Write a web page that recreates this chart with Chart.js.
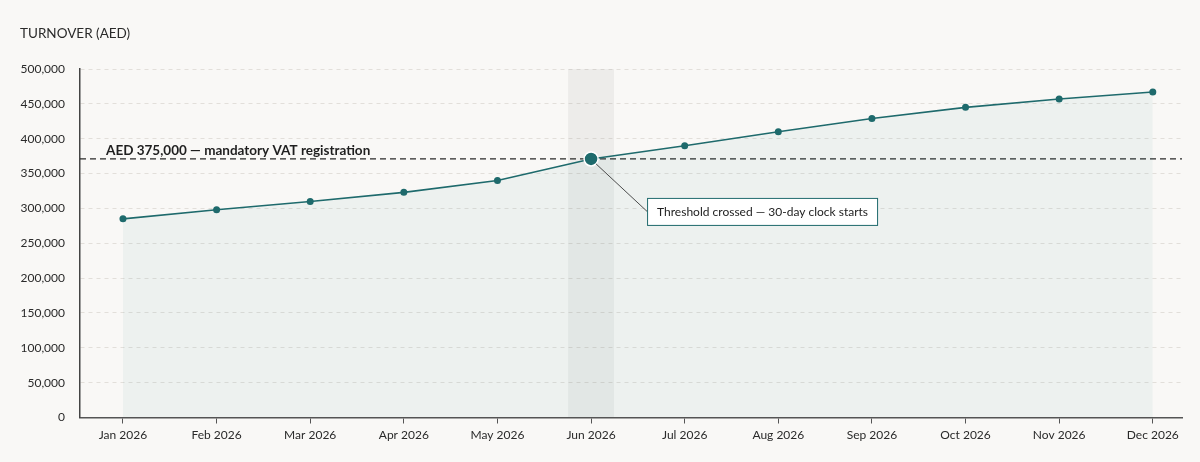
<!DOCTYPE html>
<html>
<head>
<meta charset="utf-8">
<script src="https://cdn.jsdelivr.net/npm/chart.js@4.4.1/dist/chart.umd.min.js"></script>
<style>
  html, body { margin: 0; padding: 0; background: #f9f8f6; }
  #wrap { width: 1200px; height: 462px; }
</style>
</head>
<body>
<div id="wrap"><canvas id="turnoverChart"></canvas></div>
<script>
const months = ["Jan 2026", "Feb 2026", "Mar 2026", "Apr 2026", "May 2026", "Jun 2026",
  "Jul 2026", "Aug 2026", "Sep 2026", "Oct 2026", "Nov 2026", "Dec 2026"];
const turnover = [285000, 298000, 310000, 323000, 340000, 371000,
  390000, 410000, 429000, 445000, 457000, 467000];
const thresholdValue = 371000;
const thresholdLabel = "AED 375,000 — mandatory VAT registration";
const crossIndex = 5;
const calloutText = "Threshold crossed — 30-day clock starts";
const yTitle = "TURNOVER (AED)";

const teal = "#1e6a6c";
const font = "Lato, 'Open Sans', sans-serif";

const overlays = {
  id: "overlays",
  beforeDatasetsDraw(chart) {
    const { ctx, chartArea, scales } = chart;
    const x = scales.x, y = scales.y;
    ctx.save();
    // month band behind the crossing point
    const bx1 = x.getPixelForValue(crossIndex - 0.245);
    const bx2 = x.getPixelForValue(crossIndex + 0.245);
    ctx.fillStyle = "rgba(120,120,120,0.09)";
    ctx.fillRect(bx1, chartArea.top, bx2 - bx1, chartArea.bottom - chartArea.top);
    // threshold line
    const ty = y.getPixelForValue(thresholdValue);
    ctx.strokeStyle = "#2a2a2a";
    ctx.lineWidth = 1.2;
    ctx.setLineDash([6, 4]);
    ctx.beginPath();
    ctx.moveTo(chartArea.left, ty);
    ctx.lineTo(chartArea.right, ty);
    ctx.stroke();
    ctx.setLineDash([]);
    ctx.fillStyle = "#1f1f1f";
    ctx.font = "bold 13.5px " + font;
    ctx.textBaseline = "alphabetic";
    ctx.fillText(thresholdLabel, chartArea.left + 26, ty - 3.5);
    ctx.restore();
  },
  afterDraw(chart) {
    const { ctx, scales } = chart;
    const px = scales.x.getPixelForValue(crossIndex);
    const py = scales.y.getPixelForValue(turnover[crossIndex]);
    ctx.save();
    // axis title
    ctx.fillStyle = "#2a2a2a";
    ctx.font = "13.5px " + font;
    ctx.textBaseline = "middle";
    ctx.fillText(yTitle, 20, 34);
    // callout
    const bx = px + 56, by = py + 39, bw = 230, bh = 27;
    ctx.strokeStyle = "#222";
    ctx.lineWidth = 0.8;
    ctx.beginPath();
    ctx.moveTo(px + 5, py + 5);
    ctx.lineTo(bx, by + bh / 2);
    ctx.stroke();
    ctx.fillStyle = "#ffffff";
    ctx.fillRect(bx, by, bw, bh);
    ctx.strokeStyle = teal;
    ctx.lineWidth = 1;
    ctx.strokeRect(bx + 0.5, by + 0.5, bw, bh);
    ctx.fillStyle = "#222";
    ctx.font = "12px " + font;
    ctx.fillText(calloutText, bx + 10, by + bh / 2 + 1);
    ctx.restore();
  }
};

const ctx = document.getElementById("turnoverChart");

new Chart(ctx, {
  type: "line",
  data: {
    datasets: [{
      data: turnover.map((v, i) => ({ x: i, y: v })),
      borderColor: teal,
      borderWidth: 1.6,
      backgroundColor: "rgba(30,120,120,0.055)",
      fill: "origin",
      tension: 0,
      pointRadius: c => c.dataIndex === crossIndex ? 7 : 3.5,
      pointBackgroundColor: teal,
      pointBorderColor: c => c.dataIndex === crossIndex ? "#ffffff" : teal,
      pointBorderWidth: c => c.dataIndex === crossIndex ? 1.5 : 0,
    }],
  },
  options: {
    responsive: true,
    maintainAspectRatio: false,
    animation: false,
    layout: { padding: { left: 20, top: 69, right: 18, bottom: 0 } },
    plugins: {
      legend: { display: false },
      tooltip: { enabled: false },
    },
    scales: {
      x: {
        type: "linear",
        min: -0.459,
        max: 11.312,
        afterBuildTicks: s => { s.ticks = months.map((m, i) => ({ value: i })); },
        afterFit: s => { s.height = 44.5; },
        ticks: {
          callback: (v) => months[v] || "",
          color: "#2a2a2a",
          font: { family: font, size: 12 },
          padding: 4,
          maxRotation: 0,
          autoSkip: false,
        },
        grid: { drawOnChartArea: false, drawTicks: true, tickLength: 6, tickColor: "#555", tickWidth: 1 },
        border: { display: true, color: "#555", width: 1.5 },
      },
      y: {
        min: 0,
        max: 500000,
        afterFit: s => { s.width = 60; },
        ticks: {
          stepSize: 50000,
          callback: v => v.toLocaleString("en-US"),
          color: "#2a2a2a",
          font: { family: font, size: 12 },
          padding: 15,
        },
        grid: { color: "#e2dfda", drawTicks: false, lineWidth: 1 },
        border: { display: true, color: "#444", width: 1.5, dash: [4, 4] },
      },
    },
  },
  plugins: [overlays],
});
</script>
</body>
</html>
